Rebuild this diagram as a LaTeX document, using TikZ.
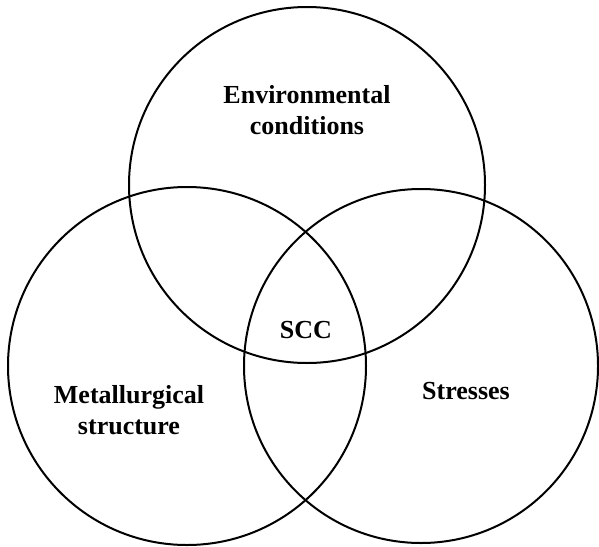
\documentclass[tikz,border=0pt]{standalone}
\usepackage{fontspec}
\setmainfont{Liberation Serif}
\begin{document}
\begin{tikzpicture}[x=1pt,y=-1pt,
  venn/.style={draw=black,line width=2pt},
  lbl/.style={font=\fontsize{26}{31}\selectfont\bfseries,align=center,inner sep=0pt,anchor=base}]
\useasboundingbox (0,0) rectangle (599,546);
\draw[venn] (307,185) circle[radius=178];
\draw[venn] (187,366) circle[radius=179];
\draw[venn] (421,366) circle[radius=177];
\node[lbl] (env) at (307,134) {Environmental\\conditions};
\node[lbl] (met) at (129,434) {Metallurgical\\structure};
\node[lbl] (str) at (466,399) {Stresses};
\node[lbl] (scc) at (306,338) {SCC};
\end{tikzpicture}
\end{document}
